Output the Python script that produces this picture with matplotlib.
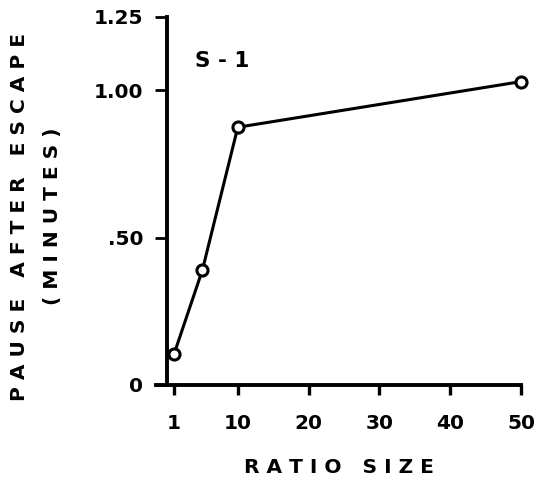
import matplotlib
matplotlib.use("Agg")
import matplotlib.pyplot as plt

ratio = [1, 5, 10, 50]
pause = [0.105, 0.39, 0.875, 1.03]
xticks = [1, 10, 20, 30, 40, 50]
yticks = [0, 0.5, 1.0, 1.25]
ylabels = ["0", ".50", "1.00", "1.25"]

def spaced(s, sep=" "):
    return sep.join(s)

fig = plt.figure(figsize=(5.51, 4.8), dpi=100)
ax = fig.add_axes([0.283, 0.198, 0.9456 - 0.283, 0.965 - 0.198])
ax.set_xlim(-1.56, 50)
ax.set_ylim(0, 1.25)
ax.plot(ratio, pause, color="black", lw=2.2, marker="o", ms=8,
        mfc="white", mec="black", mew=2.2, zorder=3, clip_on=False)

for s in ["top", "right"]:
    ax.spines[s].set_visible(False)
ax.spines["left"].set_position(("data", 0))
ax.spines["left"].set_linewidth(2.8)
ax.spines["bottom"].set_linewidth(2.8)

ax.set_xticks(xticks)
ax.set_xticklabels([str(v) for v in xticks])
ax.set_yticks(yticks)
ax.set_yticklabels(ylabels)
ax.tick_params(axis="x", direction="out", length=7, width=2.4, pad=14,
               labelsize=14.5)
ax.tick_params(axis="y", direction="out", length=9, width=2.0, pad=8,
               labelsize=14.5)
for lab in ax.get_xticklabels() + ax.get_yticklabels():
    lab.set_fontweight("bold")

ax.text(7.8, 1.10, "S - 1", fontsize=15.5, fontweight="bold", ha="center", va="center")

fig.text(0.615, 0.027, spaced("RATIO") + "   " + spaced("SIZE"), fontsize=14.5,
         fontweight="bold", ha="center", va="center")
fig.text(0.035, 0.548, "   ".join(spaced(w) for w in ["PAUSE", "AFTER", "ESCAPE"]),
         rotation=90, fontsize=14.5, fontweight="bold", ha="center", va="center")
fig.text(0.095, 0.55, spaced("(MINUTES)"),
         rotation=90, fontsize=14.5, fontweight="bold", ha="center", va="center")

fig.savefig("out.png", dpi=100)
